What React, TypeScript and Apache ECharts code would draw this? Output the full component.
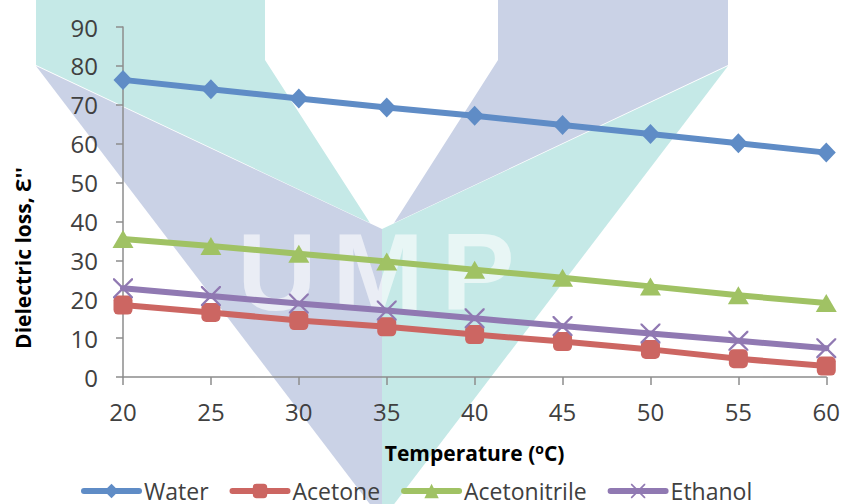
import React, { useEffect, useRef } from "react";
import * as echarts from "echarts";

// Temperatures (°C) on the x axis
const temperatures = [20, 25, 30, 35, 40, 45, 50, 55, 60];

// Dielectric loss values per solvent
const water = [76.4, 74.0, 71.6, 69.3, 67.2, 64.8, 62.5, 60.1, 57.7];
const acetone = [18.5, 16.6, 14.5, 12.9, 10.9, 9.1, 7.1, 4.7, 2.8];
const acetonitrile = [35.5, 33.7, 31.7, 29.7, 27.6, 25.5, 23.3, 21.0, 19.0];
const ethanol = [22.8, 20.8, 18.9, 17.1, 15.1, 13.1, 11.2, 9.3, 7.4];

const seriesNames = ["Water", "Acetone", "Acetonitrile", "Ethanol"];
const seriesColors = ["#5f8cc6", "#cc6662", "#a0c264", "#9079b2"];

const FONT = '"Open Sans", "Noto Sans", sans-serif';
const LAVENDER = "#cad2e6";
const TEAL = "#c5e9e7";

// thin diagonal cross marker
const crossPath =
  "path://M0,0 L1.6,0 L10,8.4 L18.4,0 L20,0 L20,1.6 L11.6,10 L20,18.4 L20,20 L18.4,20 L10,11.6 L1.6,20 L0,20 L0,18.4 L8.4,10 L0,1.6 Z";

const toPoints = (values: number[]) => temperatures.map((t, i) => [t, values[i]]);

const letterFont = 'bold 110px "Liberation Sans", sans-serif';

// background emblem drawn behind the plot
const emblem = [
  { type: "polygon", z: -5, silent: true, shape: { points: [[36, 0], [265, 0], [265, 60], [370, 223], [36, 65]] }, style: { fill: TEAL } },
  { type: "polygon", z: -5, silent: true, shape: { points: [[36, 66], [382, 229], [382, 520]] }, style: { fill: LAVENDER } },
  { type: "polygon", z: -5, silent: true, shape: { points: [[498, 0], [728, 0], [728, 65], [394, 223], [498, 60]] }, style: { fill: LAVENDER } },
  { type: "polygon", z: -5, silent: true, shape: { points: [[728, 66], [382, 229], [382, 520]] }, style: { fill: TEAL } },
  { type: "text", z: -4, silent: true, x: 277, y: 271, style: { text: "U", font: letterFont, fill: "#ffffff", opacity: 0.6, align: "center", verticalAlign: "middle" } },
  { type: "text", z: -4, silent: true, x: 378, y: 271, style: { text: "M", font: letterFont, fill: "#ffffff", opacity: 0.6, align: "center", verticalAlign: "middle" } },
  { type: "text", z: -4, silent: true, x: 478, y: 271, style: { text: "P", font: letterFont, fill: "#ffffff", opacity: 0.6, align: "center", verticalAlign: "middle" } },
];

export default function App() {
  const ref = useRef<HTMLDivElement>(null);

  useEffect(() => {
    if (!ref.current) return;
    const chart = echarts.init(ref.current, undefined, { renderer: "svg" });

    const symbols = ["diamond", "roundRect", "triangle", crossPath];
    const sizes: any[] = [[19, 20], 19, [21, 18], 20];
    const data = [water, acetone, acetonitrile, ethanol];

    chart.setOption({
      animation: false,
      backgroundColor: "#ffffff",
      textStyle: { fontFamily: FONT },
      grid: { left: 123, right: 16, top: 27, bottom: 127, containLabel: false },
      graphic: [
        ...emblem,
        {
          type: "text",
          z: 10,
          x: 23,
          y: 258,
          rotation: Math.PI / 2,
          style: {
            text: "Dielectric loss, \u0190''",
            font: `bold 21px ${FONT}`,
            fill: "#000000",
            align: "center",
            verticalAlign: "middle",
          },
        },
      ],
      legend: {
        data: seriesNames,
        left: 76,
        top: 474,
        itemWidth: 55,
        itemHeight: 18,
        itemGap: 21,
        lineStyle: { width: 6, cap: "round" },
        textStyle: { fontSize: 23, color: "#404040", fontFamily: FONT, lineHeight: 24 },
      },
      xAxis: {
        type: "value",
        min: 20,
        max: 60,
        interval: 5,
        name: "Temperature ({sup|o}C)",
        nameLocation: "middle",
        nameGap: 64,
        nameTextStyle: {
          fontSize: 21,
          fontWeight: "bold",
          color: "#000000",
          fontFamily: FONT,
          rich: {
            sup: { fontSize: 14, fontWeight: "bold", color: "#000000", verticalAlign: "top", padding: [0, 0, 9, 0], fontFamily: FONT },
          },
        },
        axisLine: { show: true, lineStyle: { color: "#8c8c8c", width: 1.5 } },
        axisTick: { show: true, length: 8, lineStyle: { color: "#8c8c8c", width: 1.5 } },
        splitLine: { show: false },
        axisLabel: { fontSize: 24, color: "#404040", margin: 22, fontFamily: FONT },
      },
      yAxis: {
        type: "value",
        min: 0,
        max: 90,
        interval: 10,
        axisLine: { show: true, lineStyle: { color: "#8c8c8c", width: 1.5 } },
        axisTick: { show: true, length: 7, lineStyle: { color: "#8c8c8c", width: 1.5 } },
        splitLine: { show: false },
        axisLabel: { fontSize: 24, color: "#404040", margin: 25, fontFamily: FONT },
      },
      series: seriesNames.map((name, i) => ({
        name,
        type: "line",
        data: toPoints(data[i]),
        symbol: symbols[i],
        symbolSize: sizes[i],
        showSymbol: true,
        color: seriesColors[i],
        lineStyle: { width: 6, color: seriesColors[i], cap: "round" },
        itemStyle: { color: seriesColors[i] },
        z: 5,
      })),
    });

    return () => chart.dispose();
  }, []);

  return (
    <div
      ref={ref}
      style={{ position: "absolute", left: 0, top: 0, width: 843, height: 504 }}
    />
  );
}
